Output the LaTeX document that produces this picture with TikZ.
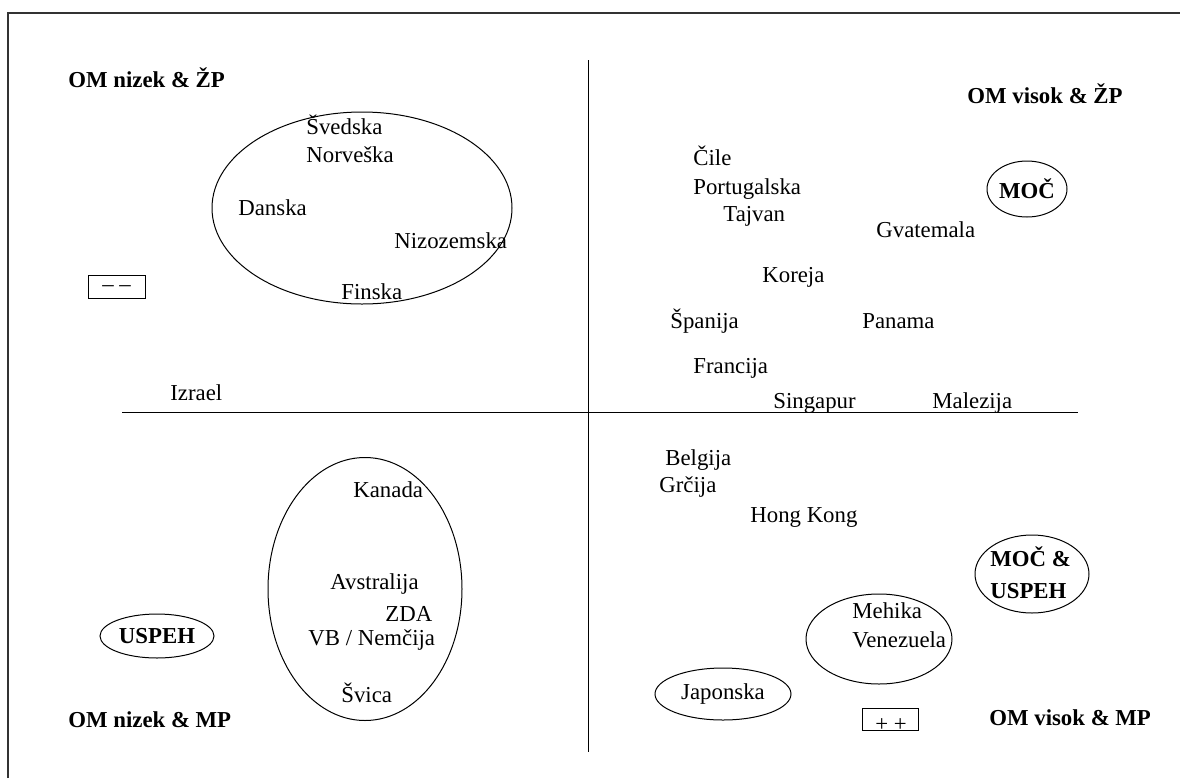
\documentclass[tikz,border=0pt]{standalone}
\usepackage{fontspec}
\setmainfont{Liberation Serif}
\usetikzlibrary{shapes.geometric}
\begin{document}
\begin{tikzpicture}[x=0.5pt,y=-0.5pt,
  lbl/.style={inner sep=0pt,anchor=base west,font=\fontsize{11.4}{14}\selectfont},
  blbl/.style={lbl,font=\fontsize{11.4}{14}\selectfont\bfseries},
  oval/.style={draw,ellipse,inner sep=0pt,line width=0.5pt},
  signbox/.style={draw,line width=0.5pt,inner sep=0pt},
  axis/.style={line width=0.5pt},
  frame/.style={line width=0.9pt,black!80}]
\useasboundingbox (0,0) rectangle (1180,778);
% frame
\coordinate (fbl) at (8,778);
\coordinate (ftl) at (8,13);
\coordinate (ftr) at (1180,13);
\draw[frame] (fbl) -- (ftl) -- (ftr);
% axes
\coordinate (vt) at (588,60);
\coordinate (vb) at (588,752);
\coordinate (hl) at (122,412);
\coordinate (hr) at (1078,412);
\draw[axis] (vt) -- (vb);
\draw[axis] (hl) -- (hr);
% quadrant titles
\node[blbl] (q1) at (68,87) {OM nizek \& ŽP};
\node[blbl] (q2) at (967,103) {OM visok \& ŽP};
\node[blbl] (q3) at (68,727) {OM nizek \& MP};
\node[blbl] (q4) at (989,725) {OM visok \& MP};
% top-left
\node[oval,minimum width=150pt,minimum height=96pt] (eTL) at (362,208) {};
\node[lbl] (sve) at (306,134) {Švedska};
\node[lbl] (nor) at (306,162) {Norveška};
\node[lbl] (dan) at (238,215) {Danska};
\node[lbl] (niz) at (394,248) {Nizozemska};
\node[lbl] (fin) at (341,299) {Finska};
\node[signbox,minimum width=28.5pt,minimum height=11.5pt] (mm) at (116.5,286.5) {};
\node[lbl,anchor=center] (mmt) at (116.5,289) {--\hspace{0.25em}--};
\node[lbl] (izr) at (170,400) {Izrael};
% top-right
\node[lbl] (cil) at (693,165) {Čile};
\node[lbl] (por) at (693,194) {Portugalska};
\node[lbl] (taj) at (723,221) {Tajvan};
\node[lbl] (gva) at (876,237) {Gvatemala};
\node[oval,minimum width=40pt,minimum height=28pt,font=\fontsize{11.4}{14}\selectfont\bfseries] (moc) at (1027,189) {MOČ};
\node[lbl] (kor) at (762,282) {Koreja};
\node[lbl] (spa) at (670,328) {Španija};
\node[lbl] (pan) at (862,328) {Panama};
\node[lbl] (fra) at (693,373) {Francija};
\node[lbl] (sin) at (773,408) {Singapur};
\node[lbl] (mal) at (932,408) {Malezija};
% bottom-right
\node[lbl] (bel) at (665,465) {Belgija};
\node[lbl] (grc) at (659,492) {Grčija};
\node[lbl] (hk) at (750,522) {Hong Kong};
\node[oval,minimum width=57pt,minimum height=39pt] (mu) at (1032,574) {};
\node[blbl] (mut1) at (990,566) {MOČ \&};
\node[blbl] (mut2) at (990,598) {USPEH};
\node[oval,minimum width=73pt,minimum height=45pt] (mv) at (879,639) {};
\node[lbl] (meh) at (852,618) {Mehika};
\node[lbl] (ven) at (852,647) {Venezuela};
\node[oval,minimum width=68pt,minimum height=26pt,font=\fontsize{11.4}{14}\selectfont] (jap) at (723,694) {Japonska};
\node[signbox,minimum width=28pt,minimum height=11pt] (pp) at (890,719) {};
\node[lbl,anchor=base] (ppt) at (891,731) {+ +};
% bottom-left
\node[oval,minimum width=97pt,minimum height=131.5pt] (eBL) at (365,589) {};
\node[lbl] (kan) at (353,497) {Kanada};
\node[lbl] (avs) at (330,589) {Avstralija};
\node[lbl] (zda) at (385,621) {ZDA};
\node[lbl] (vbn) at (308,645) {VB / Nemčija};
\node[lbl] (svi) at (341,702) {Švica};
\node[oval,minimum width=57pt,minimum height=22pt,font=\fontsize{11.4}{14}\selectfont\bfseries] (usp) at (157,636) {USPEH};
\end{tikzpicture}
\end{document}
